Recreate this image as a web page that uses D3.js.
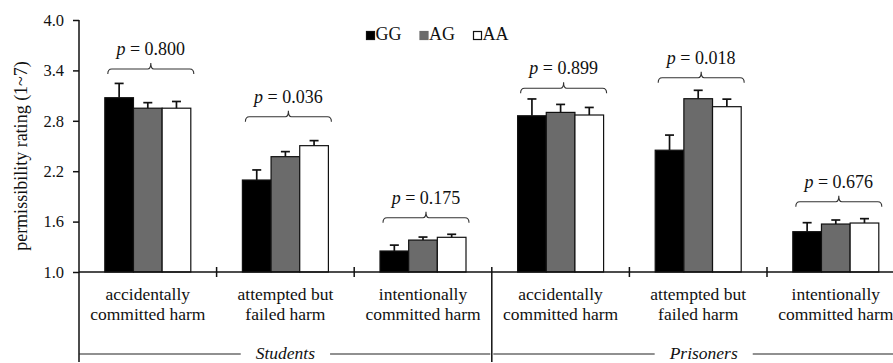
<!DOCTYPE html>
<html>
<head>
<meta charset="utf-8">
<script src="https://cdn.jsdelivr.net/npm/d3@7"></script>
<style>
html, body { margin: 0; padding: 0; background: #fff; overflow: hidden; }
svg { display: block; overflow: hidden; }
</style>
</head>
<body>
<svg id="chart" width="893" height="363"></svg>
<script>
// ---------- data ----------
const categoryLines = [
  ["accidentally", "committed harm"],
  ["attempted but", "failed harm"],
  ["intentionally", "committed harm"],
  ["accidentally", "committed harm"],
  ["attempted but", "failed harm"],
  ["intentionally", "committed harm"]
];
const groupNames = ["Students", "Prisoners"];
const series = ["GG", "AG", "AA"];
const GG = [3.075, 2.095, 1.25, 2.86, 2.45, 1.48];
const GG_err = [0.17, 0.12, 0.07, 0.20, 0.18, 0.107];
const AG = [2.95, 2.373, 1.38, 2.90, 3.063, 1.571];
const AG_err = [0.066, 0.06, 0.036, 0.095, 0.10, 0.048];
const AA = [2.95, 2.504, 1.413, 2.869, 2.968, 1.583];
const AA_err = [0.08, 0.06, 0.036, 0.09, 0.09, 0.052];
const pValues = ["0.800", "0.036", "0.175", "0.899", "0.018", "0.676"];
const braceLevels = [3.417, 2.849, 1.646, 3.187, 3.313, 1.837];
const yTicks = [1.0, 1.6, 2.2, 2.8, 3.4, 4.0];
const yTitle = "permissibility rating (1~7)";

// ---------- layout ----------
const FONT = '"Liberation Serif"';
const svg = d3.select("#chart").style("font-family", FONT);
const leftX = 79, topY = 20, axisY = 272, rightEnd = 904.6, bottomLineY = 354, axisBottom = 362;
const colors = { GG: "#000000", AG: "#6b6b6b", AA: "#ffffff" };
const values = { GG, AG, AA };
const errs = { GG: GG_err, AG: AG_err, AA: AA_err };

function txt(sel, size) {
  return sel.style("font-family", FONT).style("font-size", size + "px").attr("fill", "#111");
}

const idx = d3.range(categoryLines.length);
const x = d3.scaleBand().domain(idx).range([leftX, rightEnd]).paddingInner(0).paddingOuter(0);
const bw = x.bandwidth();
const groupW = 86;
const xi = d3.scaleBand().domain(series).range([(bw - groupW) / 2, (bw + groupW) / 2]).padding(0);
const y = d3.scaleLinear().domain([1, 4]).range([axisY, topY]);

// y axis
const yAxis = d3.axisLeft(y).tickValues(yTicks).tickFormat(d3.format(".1f")).tickSize(6).tickPadding(9);
const gy = svg.append("g").attr("transform", `translate(${leftX},0)`).call(yAxis);
gy.attr("font-family", null).attr("font-size", null);
gy.select(".domain").remove();
gy.selectAll(".tick line").attr("stroke", "#111").attr("stroke-width", 1.5);
txt(gy.selectAll(".tick text"), 16.5);
svg.append("line").attr("x1", leftX).attr("x2", leftX).attr("y1", topY).attr("y2", axisBottom)
  .attr("stroke", "#111").attr("stroke-width", 1.5);

// y title
txt(svg.append("text"), 18)
  .attr("transform", `translate(21,${(topY + axisY) / 2 + 10}) rotate(-90)`)
  .attr("text-anchor", "middle").attr("dominant-baseline", "central")
  .text(yTitle);

// bars
const catG = svg.selectAll("g.cat").data(idx).join("g").attr("class", "cat")
  .attr("transform", i => `translate(${x(i)},0)`);

series.forEach(s => {
  catG.append("rect")
    .attr("x", i => xi(s))
    .attr("width", xi.bandwidth())
    .attr("y", i => y(values[s][i]))
    .attr("height", i => axisY - y(values[s][i]))
    .attr("fill", colors[s]).attr("stroke", "#111").attr("stroke-width", 1.2);
  catG.append("line")
    .attr("x1", i => xi(s) + xi.bandwidth() / 2).attr("x2", i => xi(s) + xi.bandwidth() / 2)
    .attr("y1", i => y(values[s][i])).attr("y2", i => y(values[s][i] + errs[s][i]))
    .attr("stroke", "#111").attr("stroke-width", 1.7);
  catG.append("line")
    .attr("x1", i => xi(s) + xi.bandwidth() / 2 - 4.5).attr("x2", i => xi(s) + xi.bandwidth() / 2 + 4.5)
    .attr("y1", i => y(values[s][i] + errs[s][i])).attr("y2", i => y(values[s][i] + errs[s][i]))
    .attr("stroke", "#111").attr("stroke-width", 1.7);
});

// braces + p-values
function bracePath(x0, x1, yy) {
  const xc = (x0 + x1) / 2;
  return `M${x0},${yy + 5} Q${x0},${yy} ${x0 + 4},${yy} H${xc - 3} Q${xc},${yy} ${xc},${yy - 6} Q${xc},${yy} ${xc + 3},${yy} H${x1 - 4} Q${x1},${yy} ${x1},${yy + 5}`;
}
catG.append("path")
  .attr("d", i => bracePath(xi(series[0]) + 3, xi(series[2]) + xi.bandwidth() + 3, y(braceLevels[i])))
  .attr("fill", "none").attr("stroke", "#333").attr("stroke-width", 1.1);
const pt = txt(catG.append("text"), 18)
  .attr("x", bw / 2 + 3)
  .attr("y", i => y(braceLevels[i]) - 14)
  .attr("text-anchor", "middle");
pt.append("tspan").style("font-style", "italic").text("p");
pt.append("tspan").text(i => " = " + pValues[i]);

// x axis line
svg.append("line").attr("x1", leftX).attr("x2", rightEnd + 20).attr("y1", axisY).attr("y2", axisY)
  .attr("stroke", "#111").attr("stroke-width", 1.5);
// category ticks
const boundaries = idx.slice(1).map(i => x(i));
svg.selectAll("line.ctick").data(boundaries).join("line").attr("class", "ctick")
  .attr("x1", d => d).attr("x2", d => d)
  .attr("y1", axisY - 5)
  .attr("y2", (d, k) => k === 2 ? axisBottom : axisY + 5)
  .attr("stroke", "#111").attr("stroke-width", 1.5);

// category labels
categoryLines.forEach((lines, i) => {
  lines.forEach((t, j) => {
    txt(svg.append("text"), 17.5).attr("x", x(i) + bw / 2).attr("y", 299.5 + j * 20)
      .attr("text-anchor", "middle").text(t);
  });
});

// group labels with lines
const groupSpans = [[leftX, x(3)], [x(3), rightEnd + 11]];
groupNames.forEach((g, k) => {
  const [a, b] = groupSpans[k];
  const cx = (a + b) / 2;
  const t = txt(svg.append("text"), 17.5).attr("x", cx).attr("y", bottomLineY + 5)
    .attr("text-anchor", "middle").style("font-style", "italic").text(g);
  const w = t.node().getComputedTextLength();
  const gap = 15;
  svg.append("line").attr("x1", a + (k === 0 ? 0 : 1.5)).attr("x2", cx - w / 2 - gap)
    .attr("y1", bottomLineY).attr("y2", bottomLineY).attr("stroke", "#222").attr("stroke-width", 1.1);
  svg.append("line").attr("x1", cx + w / 2 + gap).attr("x2", b - (k === 0 ? 1.5 : 0))
    .attr("y1", bottomLineY).attr("y2", bottomLineY).attr("stroke", "#222").attr("stroke-width", 1.1);
});

// legend
const legend = svg.append("g").attr("transform", "translate(366,40)");
let lx = 0;
series.forEach(s => {
  legend.append("rect").attr("x", lx + 0.5).attr("y", -8.5).attr("width", 8).attr("height", 8)
    .attr("fill", colors[s]).attr("stroke", s === "AG" ? colors[s] : "#111").attr("stroke-width", 1.2);
  const t = txt(legend.append("text"), 18).attr("x", lx + 9.5).attr("y", 0).text(s);
  lx += 9.5 + t.node().getComputedTextLength() + 18;
});
</script>
</body>
</html>
